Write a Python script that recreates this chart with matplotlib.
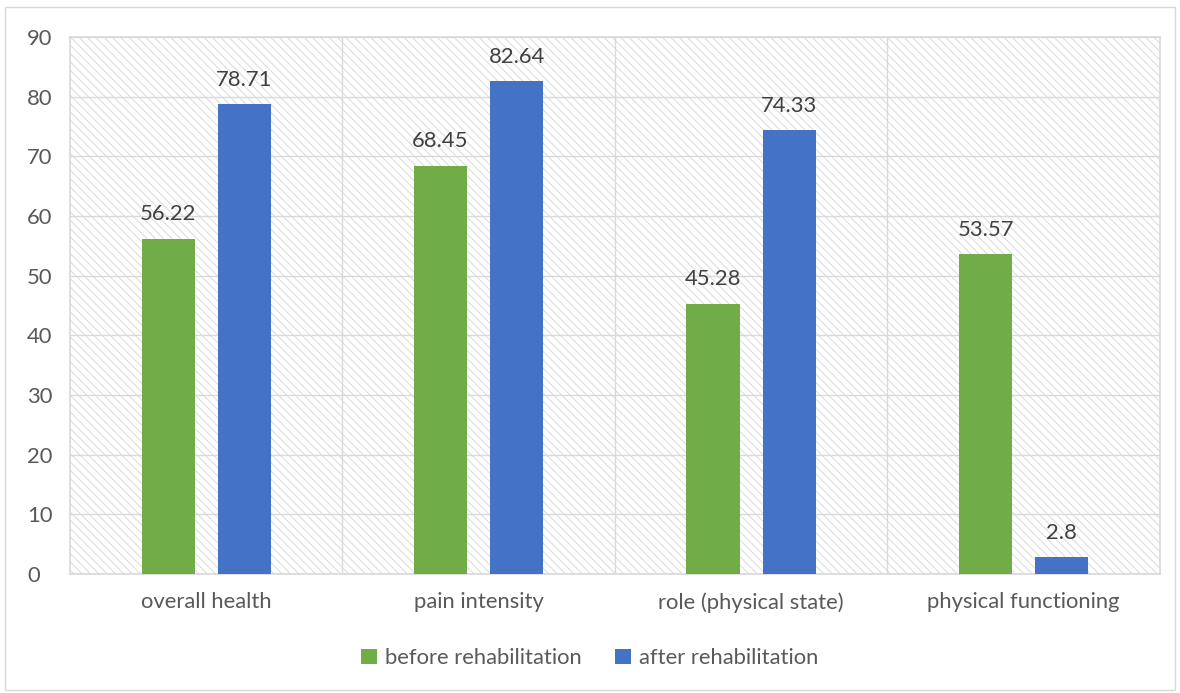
import matplotlib.pyplot as plt
import numpy as np
from matplotlib.patches import Rectangle

plt.rcParams['font.family'] = ['Lato', 'DejaVu Sans']
plt.rcParams['hatch.color'] = '#dadada'
plt.rcParams['hatch.linewidth'] = 0.7

categories = ["overall health", "pain intensity", "role (physical state)", "physical functioning"]
before = [56.22, 68.45, 45.28, 53.57]
after = [78.71, 82.64, 74.33, 2.8]
labels_before = ["56.22", "68.45", "45.28", "53.57"]
labels_after = ["78.71", "82.64", "74.33", "2.8"]

green = '#70ad47'
blue = '#4472c4'
txt = '#595959'
fs = 15.8

fig = plt.figure(figsize=(11.8, 6.93), dpi=100)
ax = fig.add_axes([0.0593, 0.1717, 0.9237, 0.775])

# hatched plot area background
bg = Rectangle((0, 0), 1, 1, transform=ax.transAxes, facecolor='white',
               hatch='\\\\\\\\', edgecolor='#dadada', linewidth=0, zorder=0)
ax.add_patch(bg)

x = np.arange(len(categories))
w = 0.195
off = 0.14
b1 = ax.bar(x - off, before, w, color=green, label='before rehabilitation', zorder=3)
b2 = ax.bar(x + off, after, w, color=blue, label='after rehabilitation', zorder=3)

for rect, s in zip(b1, labels_before):
    ax.text(rect.get_x() + rect.get_width() / 2, rect.get_height() + 2.4, s,
            ha='center', va='bottom', fontsize=fs, color='#404040')
for rect, s in zip(b2, labels_after):
    ax.text(rect.get_x() + rect.get_width() / 2, rect.get_height() + 2.4, s,
            ha='center', va='bottom', fontsize=fs, color='#404040')

ax.set_xlim(-0.5, len(categories) - 0.5)
ax.set_ylim(0, 90)
ax.set_yticks(range(0, 91, 10))
ax.set_xticks(x)
ax.set_xticklabels(categories)
ax.set_xticks(np.arange(0.5, len(categories) - 0.5), minor=True)
ax.tick_params(axis='both', which='both', length=0, labelsize=fs, labelcolor=txt)
ax.tick_params(axis='x', pad=13)
ax.tick_params(axis='y', pad=31)
for lab in ax.get_yticklabels():
    lab.set_horizontalalignment('left')

ax.grid(axis='y', color='#d9d9d9', linewidth=1, zorder=1)
ax.grid(axis='x', which='minor', color='#d9d9d9', linewidth=1, zorder=1)
ax.set_axisbelow(True)
for sp in ax.spines.values():
    sp.set_color('#d9d9d9')
    sp.set_linewidth(1.2)

leg = fig.legend(loc='center', bbox_to_anchor=(0.5, 0.05), ncol=2, frameon=False,
                 fontsize=fs, handlelength=0.7, handleheight=0.7, columnspacing=1.5,
                 handletextpad=0.4)
for t in leg.get_texts():
    t.set_color(txt)

fig.patches.append(Rectangle((0.004, 0.004), 0.992, 0.986, transform=fig.transFigure,
                             fill=False, edgecolor='#d9d9d9', linewidth=1))

fig.savefig('out.png', dpi=100)
